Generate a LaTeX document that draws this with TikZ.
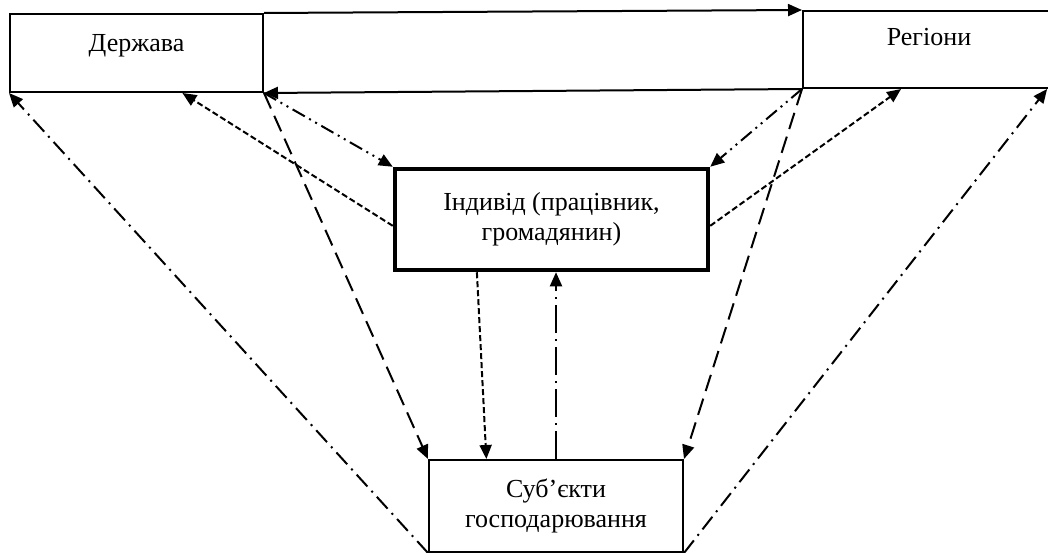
\documentclass[tikz,border=0pt]{standalone}
\usepackage{fontspec}
\setmainfont{Liberation Serif}
\usetikzlibrary{arrows.meta,calc}
\begin{document}
\begin{tikzpicture}[x=1pt,y=-1pt,line width=2pt,
    box/.style={draw,rectangle,inner sep=0pt,align=center,font=\fontsize{26}{30}\selectfont},
    shortdash/.style={dash pattern=on 6pt off 3pt},
    longdash/.style={dash pattern=on 17pt off 8pt},
    dashdot/.style={dash pattern=on 16pt off 6pt on 2pt off 6pt},
    longdashdot/.style={dash pattern=on 28pt off 6pt on 2pt off 6pt},
    dashdotdot/.style={dash pattern=on 14pt off 5pt on 2pt off 5pt on 2pt off 5pt},
    >={Triangle[length=14pt,width=12pt]}]
      \useasboundingbox (0,0) rectangle (1048,553);
      \draw
        (136.5,53) node[box,minimum width=253pt,text height=38pt,text depth=40pt] (derzh){Держава}
        (929,49.5) node[box,minimum width=252pt,text height=35pt,text depth=42pt] (reg){Регіони}
        (551.5,219.5) node[box,line width=4.5pt,minimum width=313pt,minimum height=101pt] (indiv){Індивід (працівник,\\громадянин)}
        (556,506) node[box,minimum width=254pt,minimum height=92pt] (subj){Суб’єкти\\господарювання};
      \begin{scope}[->]
        \draw (derzh.north east) to (reg.north west);
        \draw (reg.south west) to (derzh.south east);
        \draw[dashdot] (subj.south west) to (derzh.south west);
        \draw[shortdash] ($(indiv.north west)!.56!(indiv.south west)$) to ($(derzh.south west)!.68!(derzh.south east)$);
        \draw[dashdotdot] (derzh.south east) to (indiv.north west);
        \draw[longdash] (derzh.south east) to (subj.north west);
        \draw[dashdotdot] (reg.south west) to (indiv.north east);
        \draw[longdash] (reg.south west) to (subj.north east);
        \draw[shortdash] ($(indiv.north east)!.56!(indiv.south east)$) to ($(reg.south west)!.39!(reg.south east)$);
        \draw[dashdot] (subj.south east) to ($(reg.south west)!.965!(reg.south east)$);
        \draw[shortdash] ($(indiv.south west)!.265!(indiv.south east)$) to ($(subj.north west)!.228!(subj.north east)$);
        \draw[longdashdot] (subj.north) to (subj.north |- indiv.south);
      \end{scope}
    \end{tikzpicture}
\end{document}
